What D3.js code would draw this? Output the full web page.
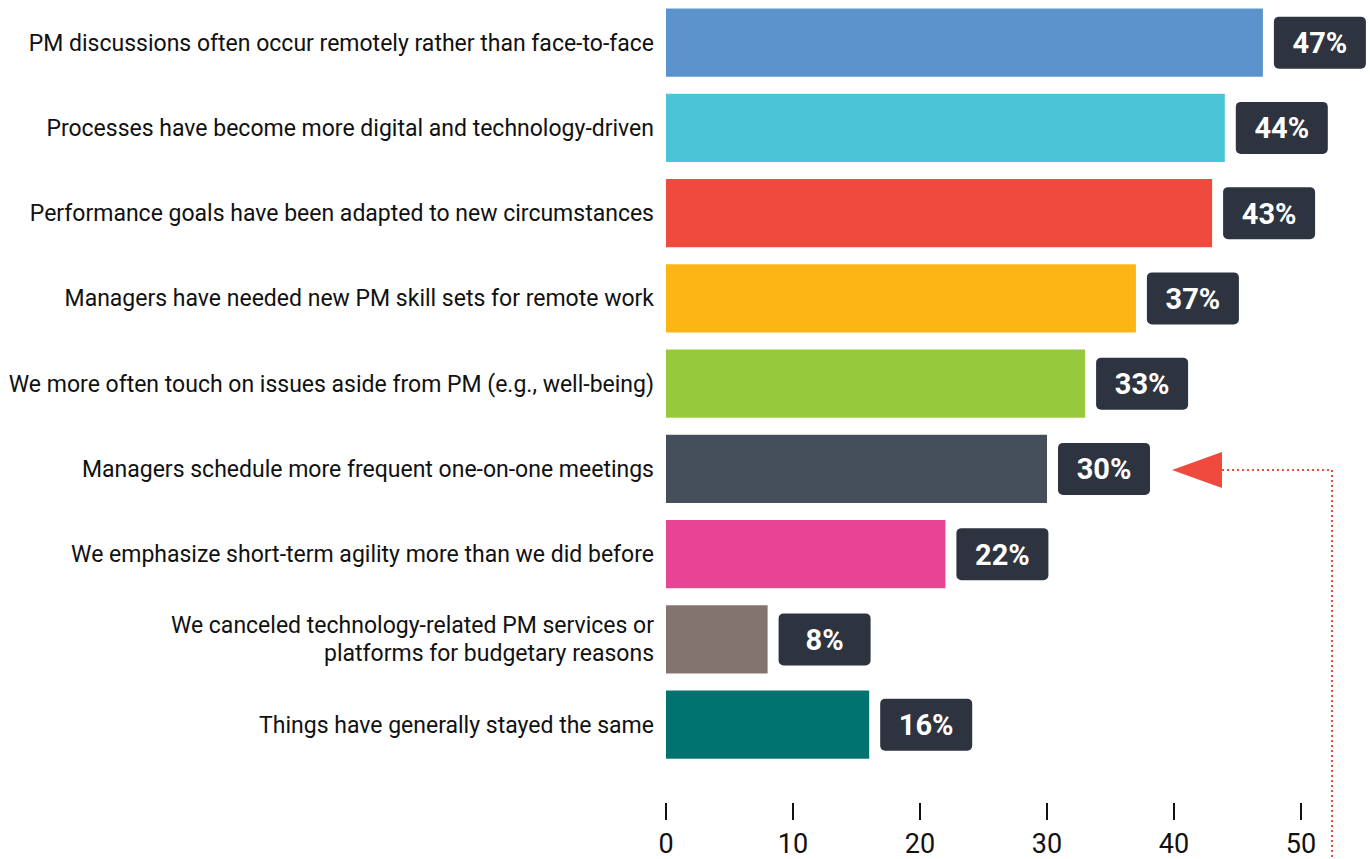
<!DOCTYPE html>
<html>
<head>
<meta charset="utf-8">
<script src="https://cdn.jsdelivr.net/npm/d3@7/dist/d3.min.js"></script>
<style>
  html, body { margin: 0; padding: 0; background: #fff; }
  svg { display: block; font-family: Roboto, 'Noto Sans', sans-serif; }
</style>
</head>
<body>
<div id="chart"></div>
<script>
const categories = [
  ['PM discussions often occur remotely rather than face-to-face'],
  ['Processes have become more digital and technology-driven'],
  ['Performance goals have been adapted to new circumstances'],
  ['Managers have needed new PM skill sets for remote work'],
  ['We more often touch on issues aside from PM (e.g., well-being)'],
  ['Managers schedule more frequent one-on-one meetings'],
  ['We emphasize short-term agility more than we did before'],
  ['We canceled technology-related PM services or', 'platforms for budgetary reasons'],
  ['Things have generally stayed the same']
]

const values = [47, 44, 43, 37, 33, 30, 22, 8, 16]

const barColors = ['#5b94cc', '#4cc4d7', '#f04a3e', '#fdb415', '#97c93d', '#454f5c', '#e94393', '#837470', '#007370']

const xTicks = [0, 10, 20, 30, 40, 50]

// the highlighted row the red arrow points at
const highlightIndex = 5

const width = 1370
const height = 859
const margin = { top: 0, left: 666 }

const svg = d3.select('#chart').append('svg')
  .attr('width', width)
  .attr('height', height)

const g = svg.append('g')
  .attr('transform', `translate(${margin.left}, ${margin.top})`)

const x = d3.scaleLinear()
  .domain([0, 50])
  .range([0, 635])

const y = d3.scaleBand()
  .domain(d3.range(values.length))
  .range([0, 767.25])
  .paddingInner(0.2)
  .paddingOuter(0.1)

const rows = g.selectAll('.row')
  .data(values.map((v, i) => ({ i, value: v, name: categories[i], color: barColors[i] })))
  .enter()
  .append('g')
  .attr('class', 'row')
  .attr('transform', (d) => `translate(0, ${y(d.i)})`)

rows.append('rect')
  .attr('width', (d) => x(d.value))
  .attr('height', y.bandwidth())
  .attr('fill', (d) => d.color)

// category labels
rows.append('text')
  .attr('x', -12)
  .attr('text-anchor', 'end')
  .attr('fill', '#111')
  .style('font-size', '23px')
  .each(function (d) {
    const t = d3.select(this)
    const n = d.name.length
    d.name.forEach((line, k) => {
      t.append('tspan')
        .attr('x', -12)
        .attr('y', y.bandwidth() / 2 + (k - (n - 1) / 2) * 28)
        .attr('dy', '0.35em')
        .text(line)
    })
  })

// value badges
const boxW = 92
const boxH = 52
const badge = rows.append('g')
  .attr('transform', (d) => `translate(${x(d.value) + 11}, ${(y.bandwidth() - boxH) / 2})`)

badge.append('rect')
  .attr('width', boxW)
  .attr('height', boxH)
  .attr('rx', 5)
  .attr('fill', '#2d3440')

badge.append('text')
  .attr('x', boxW / 2)
  .attr('y', boxH / 2)
  .attr('dy', '0.36em')
  .attr('text-anchor', 'middle')
  .attr('fill', '#fff')
  .style('font-size', '29px')
  .style('font-weight', 700)
  .text((d) => d.value + '%')

// bottom axis: tick marks and labels, no domain line
const axisG = g.append('g')
  .attr('transform', 'translate(0, 803)')

const tick = axisG.selectAll('.tick')
  .data(xTicks)
  .enter()
  .append('g')
  .attr('class', 'tick')
  .attr('transform', (d) => `translate(${x(d)}, 0)`)

tick.append('line')
  .attr('y1', 0)
  .attr('y2', 17)
  .attr('stroke', '#111')
  .attr('stroke-width', 2)

tick.append('text')
  .attr('y', 50)
  .attr('text-anchor', 'middle')
  .attr('fill', '#111')
  .style('font-size', '27px')
  .text((d) => d)

// red arrow annotation
const hy = y(highlightIndex) + y.bandwidth() / 2 + 1
const tipX = x(values[highlightIndex]) + 11 + boxW + 22
const baseX = tipX + 50
const lineX = x(50) + 31

g.append('path')
  .attr('d', `M${baseX},${hy} H${lineX} V${height + 2}`)
  .attr('fill', 'none')
  .attr('stroke', '#f04a3e')
  .attr('stroke-width', 2)
  .attr('stroke-dasharray', '2,3')

g.append('path')
  .attr('d', `M${tipX},${hy} L${baseX},${hy - 18} L${baseX},${hy + 18} Z`)
  .attr('fill', '#f04a3e')
</script>
</body>
</html>
